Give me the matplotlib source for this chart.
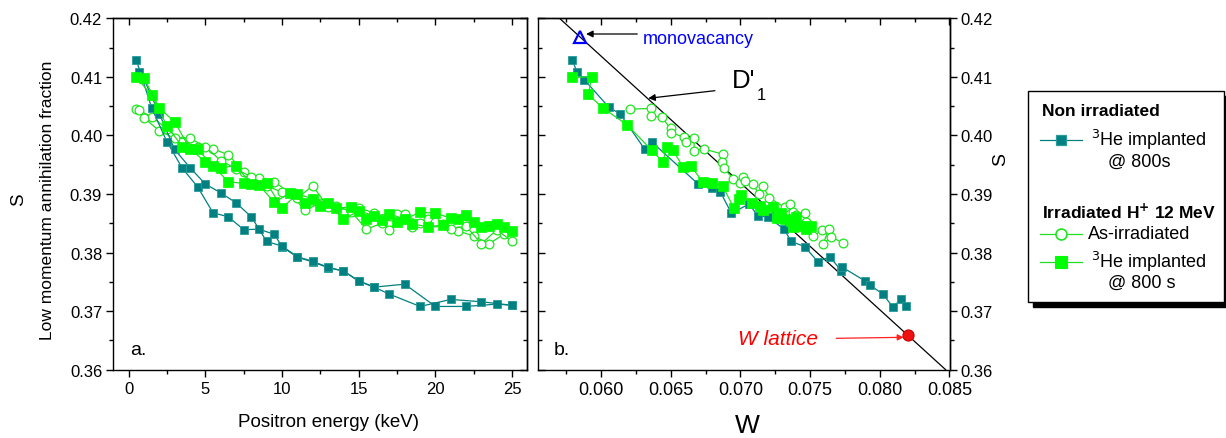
import matplotlib
matplotlib.use("Agg")
import matplotlib.pyplot as plt
import numpy as np
from matplotlib.ticker import MultipleLocator, FormatStrFormatter
from matplotlib.patches import Rectangle
from matplotlib.lines import Line2D

plt.rcParams['font.family'] = ['Liberation Sans', 'DejaVu Sans']

# ---------------- data: panel a (S vs positron energy) ----------------
teal_E1 = [0.5, 1.5, 2.5, 3.5, 4.5, 5.5, 6.5, 7.5, 8.5, 9.5, 10, 11, 12, 13, 14, 15, 16, 18, 20, 22, 24, 25]
teal_S1 = [0.4129, 0.4047, 0.3989, 0.3944, 0.3912, 0.3868, 0.3861, 0.3839, 0.3840, 0.3831, 0.3810,
           0.3792, 0.3784, 0.3774, 0.3769, 0.3751, 0.3741, 0.3746, 0.3708, 0.3708, 0.3712, 0.3710]
teal_E2 = [0.7, 1.0, 2.0, 3.0, 4.0, 5.0, 6.0, 7.0, 8.0, 9.0, 10, 11, 12, 13, 14, 15, 16, 17, 19, 21, 23, 25]
teal_S2 = [0.4108, 0.4096, 0.4037, 0.3976, 0.3945, 0.3917, 0.3902, 0.3885, 0.3861, 0.3819, 0.3811,
           0.3793, 0.3785, 0.3775, 0.3768, 0.3752, 0.3741, 0.3729, 0.3708, 0.3720, 0.3716, 0.3710]

asirr_E1 = [0.5, 1.5, 2.5, 3.5, 4.5, 5.5, 6.5, 7.5, 8.5, 9.5, 10.5, 11.5, 12.5, 13.5, 14.5, 15.5,
            16.5, 17.5, 18.5, 19.5, 20.5, 21.5, 22.5, 23.5, 24.5]
asirr_S1 = [0.4045, 0.4032, 0.4011, 0.3990, 0.3981, 0.3977, 0.3967, 0.3938, 0.3927, 0.3921, 0.3902,
            0.3872, 0.3885, 0.3880, 0.3870, 0.3840, 0.3850, 0.3866, 0.3843, 0.3858, 0.3848, 0.3837,
            0.3828, 0.3815, 0.3832]
asirr_E2 = [0.7, 1, 2, 3, 4, 5, 6, 7, 8, 9, 10, 11, 12, 13, 14, 15, 16, 17, 18, 19, 20, 21, 22, 23, 24, 25]
asirr_S2 = [0.4044, 0.4030, 0.4008, 0.3995, 0.3995, 0.3981, 0.3957, 0.3943, 0.3929, 0.3914, 0.3903,
            0.3893, 0.3914, 0.3878, 0.3868, 0.3876, 0.3868, 0.3839, 0.3866, 0.3850, 0.3853, 0.3841,
            0.3845, 0.3815, 0.3839, 0.3819]

heirr_E1 = [0.5, 1.5, 2.5, 3.5, 4.5, 5.5, 6.5, 7.5, 8.5, 9.5, 10.5, 11.5, 12.5, 13.5, 14.5, 15.5,
            16.5, 17.5, 18.5, 19.5, 20.5, 21.5, 22.5, 23.5, 24.5]
heirr_S1 = [0.4099, 0.4069, 0.4016, 0.3981, 0.3976, 0.3948, 0.3921, 0.3918, 0.3915, 0.3886, 0.3901,
            0.3884, 0.3879, 0.3876, 0.3878, 0.3857, 0.3856, 0.3853, 0.3849, 0.3844, 0.3847, 0.3857,
            0.3852, 0.3845, 0.3844]
heirr_E2 = [1, 2, 3, 4, 5, 6, 7, 8, 9, 10, 11, 12, 13, 14, 15, 16, 17, 18, 19, 20, 21, 22, 23, 24, 25]
heirr_S2 = [0.4098, 0.4047, 0.4023, 0.3977, 0.3955, 0.3945, 0.3948, 0.3917, 0.3919, 0.3876, 0.3900,
            0.3892, 0.3885, 0.3857, 0.3871, 0.3863, 0.3866, 0.3857, 0.3869, 0.3867, 0.3859, 0.3864,
            0.3844, 0.3848, 0.3836]

# ---------------- data: panel b (S vs W) ----------------
teal_W = [0.05794, 0.05826, 0.05880, 0.06057, 0.06136, 0.06315, 0.06363, 0.06697, 0.06793, 0.06857,
          0.06936, 0.07062, 0.07127, 0.07199, 0.07311, 0.07366, 0.07461, 0.07557, 0.07640, 0.07724,
          0.07731, 0.07891, 0.07927, 0.08022, 0.08094, 0.08154, 0.08190]
teal_Sb = [0.4129, 0.4109, 0.4095, 0.4048, 0.4037, 0.3976, 0.3989, 0.3917, 0.3911, 0.3903,
           0.3867, 0.3883, 0.3862, 0.3861, 0.3840, 0.3819, 0.3810, 0.3784, 0.3793, 0.3769,
           0.3775, 0.3752, 0.3745, 0.3729, 0.3707, 0.3721, 0.3709]

heirr_W = [0.05794, 0.05933, 0.05909, 0.06012, 0.06188, 0.06363, 0.06442, 0.06475, 0.06514, 0.06590,
           0.06643, 0.06733, 0.06793, 0.06872, 0.06953, 0.06991, 0.07001, 0.07080, 0.07139, 0.07163,
           0.07234, 0.07259, 0.07294, 0.07318, 0.07366, 0.07378, 0.07402, 0.07438, 0.07474, 0.07509]
heirr_Sb = [0.4099, 0.4100, 0.4070, 0.4047, 0.4018, 0.3975, 0.3955, 0.3981, 0.3975, 0.3946,
            0.3948, 0.3920, 0.3918, 0.3914, 0.3876, 0.3891, 0.3898, 0.3885, 0.3880, 0.3872,
            0.3877, 0.3859, 0.3868, 0.3857, 0.3854, 0.3843, 0.3860, 0.3846, 0.3840, 0.3846]

asirr_W = [0.06208, 0.06356, 0.06356, 0.06435, 0.06499, 0.06499, 0.06595, 0.06609, 0.06668, 0.06668,
           0.06738, 0.06872, 0.06865, 0.06881, 0.06948, 0.06996, 0.07020, 0.07032, 0.07087, 0.07134,
           0.07163, 0.07206, 0.07318, 0.07354, 0.07378, 0.07402, 0.07461, 0.07474, 0.07521, 0.07588,
           0.07635, 0.07593, 0.07652, 0.07736]
asirr_Sb = [0.4045, 0.4046, 0.4033, 0.4031, 0.4012, 0.4005, 0.3997, 0.3989, 0.3995, 0.3974,
            0.3977, 0.3968, 0.3955, 0.3944, 0.3926, 0.3919, 0.3929, 0.3923, 0.3917, 0.3900,
            0.3913, 0.3894, 0.3877, 0.3883, 0.3869, 0.3864, 0.3867, 0.3853, 0.3828, 0.3839,
            0.3840, 0.3815, 0.3827, 0.3816]

mono_W, mono_S = 0.0585, 0.4168
latt_W, latt_S = 0.0820, 0.3659

# ---------------- styles ----------------
TEAL = '#008080'
GREEN = '#00ff00'
GLINE = '#22dd22'

W_px, H_px = 1226, 439
fig = plt.figure(figsize=(W_px / 100, H_px / 100), dpi=100)

def fx(px):
    return px / W_px

def fy(py):
    return 1 - py / H_px

top, bot = 19.3, 370.7
ax_a = fig.add_axes([fx(113.3), fy(bot), fx(526.7 - 113.3), (bot - top) / H_px])
ax_b = fig.add_axes([fx(538.3), fy(bot), fx(949.5 - 538.3), (bot - top) / H_px])

teal_kw = dict(color=TEAL, lw=0.9, marker='s', ms=6, mfc=TEAL, mec='#2a9a9a', mew=0.6)
he_kw = dict(color=GLINE, lw=0.9, marker='s', ms=6.5, mfc=GREEN, mec=GREEN, mew=0.5)
circ_kw = dict(color=GLINE, lw=0.9, marker='o', ms=6.3, mfc='white', mec='#1ee61e', mew=0.9)

# panel a
ax_a.plot(asirr_E1, asirr_S1, **circ_kw, zorder=3)
ax_a.plot(asirr_E2, asirr_S2, **circ_kw, zorder=3)
ax_a.plot(teal_E1, teal_S1, **teal_kw, zorder=4)
ax_a.plot(teal_E2, teal_S2, **teal_kw, zorder=4)
ax_a.plot(heirr_E1, heirr_S1, **he_kw, zorder=5)
ax_a.plot(heirr_E2, heirr_S2, **he_kw, zorder=5)

ax_a.set_xlim(-1, 25.95)
ax_a.set_ylim(0.36, 0.42)

# panel b
ax_b.axline((mono_W, mono_S), (latt_W, latt_S), color='black', lw=0.9, zorder=2)
ax_b.plot(asirr_W, asirr_Sb, **circ_kw, zorder=3)
ax_b.plot(teal_W, teal_Sb, **teal_kw, zorder=4)
ax_b.plot(heirr_W, heirr_Sb, **he_kw, zorder=5)
ax_b.plot([mono_W], [mono_S], marker='^', ms=9, mfc='none', mec='#0000ff', mew=1.6, zorder=6)
ax_b.plot([latt_W], [latt_S], marker='o', ms=8, mfc='#ee1111', mec='#cc0000', mew=0.8, zorder=6)
ax_b.set_xlim(0.0555, 0.085)
ax_b.set_ylim(0.36, 0.42)

# ---------------- ticks ----------------
TFS = 12
for ax in (ax_a, ax_b):
    for s in ax.spines.values():
        s.set_linewidth(1.0)
    ax.yaxis.set_major_locator(MultipleLocator(0.01))
    ax.yaxis.set_minor_locator(MultipleLocator(0.005))
    ax.yaxis.set_major_formatter(FormatStrFormatter('%.2f'))

ax_a.xaxis.set_major_locator(MultipleLocator(5))
ax_a.xaxis.set_minor_locator(MultipleLocator(2.5))
ax_b.xaxis.set_major_locator(MultipleLocator(0.005))
ax_b.xaxis.set_minor_locator(MultipleLocator(0.0025))
ax_b.xaxis.set_major_formatter(FormatStrFormatter('%.3f'))

def set_ticks(ax, axis, direction, labels, side_kw):
    ax.tick_params(axis=axis, which='major', direction=direction, length=5, width=1.0,
                   labelsize=TFS, pad=3, **side_kw)
    ax.tick_params(axis=axis, which='minor', direction=direction, length=3, width=1.0, **side_kw)

# panel a: bottom out, left out; top & right in (no labels)
set_ticks(ax_a, 'x', 'out', True, dict(bottom=True, top=False))
set_ticks(ax_a, 'y', 'out', True, dict(left=True, right=False))
sec = ax_a.secondary_xaxis('top')
sec.xaxis.set_major_locator(MultipleLocator(5)); sec.xaxis.set_minor_locator(MultipleLocator(2.5))
sec.tick_params(which='major', direction='in', length=5, width=1.0, labeltop=False)
sec.tick_params(which='minor', direction='in', length=3, width=1.0)
sec.spines['top'].set_linewidth(1.0)
sec = ax_a.secondary_yaxis('right')
sec.yaxis.set_major_locator(MultipleLocator(0.01)); sec.yaxis.set_minor_locator(MultipleLocator(0.005))
sec.tick_params(which='major', direction='in', length=5, width=1.0, labelright=False)
sec.tick_params(which='minor', direction='in', length=3, width=1.0)
sec.spines['right'].set_linewidth(1.0)

# panel b: bottom out, left in (no labels), top in, right out with labels
set_ticks(ax_b, 'x', 'out', True, dict(bottom=True, top=False))
ax_b.tick_params(axis='x', labelsize=13)
ax_b.tick_params(axis='y', which='major', direction='in', length=5, width=1.0, left=True, right=False, labelleft=False)
ax_b.tick_params(axis='y', which='minor', direction='in', length=3, width=1.0, left=True, right=False)
sec = ax_b.secondary_xaxis('top')
sec.xaxis.set_major_locator(MultipleLocator(0.005)); sec.xaxis.set_minor_locator(MultipleLocator(0.0025))
sec.tick_params(which='major', direction='in', length=5, width=1.0, labeltop=False)
sec.tick_params(which='minor', direction='in', length=3, width=1.0)
sec.spines['top'].set_linewidth(1.0)
sec = ax_b.secondary_yaxis('right')
sec.yaxis.set_major_locator(MultipleLocator(0.01)); sec.yaxis.set_minor_locator(MultipleLocator(0.005))
sec.yaxis.set_major_formatter(FormatStrFormatter('%.2f'))
sec.tick_params(which='major', direction='out', length=5, width=1.0, labelsize=TFS, pad=3)
sec.tick_params(which='minor', direction='out', length=3, width=1.0)
sec.spines['right'].set_linewidth(1.0)

# ---------------- axis labels & annotations ----------------
fig.text(fx(19), fy(200), 'S', rotation=90, fontsize=13.5, ha='center', va='center')
fig.text(fx(47.5), fy(200), 'Low momentum annihilation fraction', rotation=90, fontsize=12.5,
         ha='center', va='center')
fig.text(fx(328), fy(423), 'Positron energy (keV)', fontsize=13.5, ha='center', va='center')
fig.text(fx(747), fy(426), 'W', fontsize=19, ha='center', va='center')
fig.text(fx(1001), fy(160), 'S', rotation=90, fontsize=14, ha='center', va='center')

fig.text(fx(130), fy(355), 'a.', fontsize=14, ha='left', va='baseline')
fig.text(fx(554), fy(355), 'b.', fontsize=14, ha='left', va='baseline')

ax_b.text(0.06301, 0.41573, 'monovacancy', color='#0000ff', fontsize=13, ha='left', va='baseline')
ax_b.annotate('', xy=(0.05893, 0.41732), xytext=(0.0626, 0.41732),
              arrowprops=dict(arrowstyle='-|>', color='black', lw=0.9, mutation_scale=10,
                              shrinkA=0, shrinkB=0))
ax_b.text(0.06936, 0.40822, "D'", fontsize=18.5, ha='left', va='baseline')
ax_b.text(0.07117, 0.40622, '1', fontsize=12, ha='left', va='baseline')
ax_b.annotate('', xy=(0.06339, 0.40634), xytext=(0.06817, 0.40764),
              arrowprops=dict(arrowstyle='-|>', color='black', lw=0.9, mutation_scale=10,
                              shrinkA=0, shrinkB=0))
ax_b.text(0.06984, 0.36439, 'W lattice', color='#ff0000', fontsize=15, style='italic',
          ha='left', va='baseline')
ax_b.annotate('', xy=(0.08171, 0.36553), xytext=(0.07688, 0.36536),
              arrowprops=dict(arrowstyle='-|>', color='#ff2020', lw=0.9, mutation_scale=9,
                              shrinkA=0, shrinkB=0))

# ---------------- legend box ----------------
lx0, ly0, lw_, lh_ = 1028, 92, 196, 211
shadow = Rectangle((fx(lx0 + 5), fy(ly0 + lh_ + 5)), fx(lw_), lh_ / H_px, transform=fig.transFigure,
                   facecolor='black', edgecolor='black', zorder=1)
fig.add_artist(shadow)
box = Rectangle((fx(lx0), fy(ly0 + lh_)), fx(lw_), lh_ / H_px, transform=fig.transFigure,
                facecolor='white', edgecolor='black', lw=1.0, zorder=2)
fig.add_artist(box)

def lt(x, y, s, **kw):
    fig.text(fx(lx0 + x), fy(ly0 + y), s, ha='left', va='center', zorder=3, **kw)

def lsample(y, kw):
    ln = Line2D([fx(lx0 + 12), fx(lx0 + 54)], [fy(ly0 + y)] * 2, transform=fig.transFigure,
                color=kw['color'], lw=kw['lw'], zorder=3)
    fig.add_artist(ln)
    mk = Line2D([fx(lx0 + 33)], [fy(ly0 + y)], transform=fig.transFigure, linestyle='none',
                marker=kw['marker'], ms=kw['ms'] * 1.25, mfc=kw['mfc'], mec=kw['mec'],
                mew=kw['mew'] + 0.3, zorder=4)
    fig.add_artist(mk)

lt(14, 20, 'Non irradiated', fontsize=12.5, fontweight='bold')
lsample(49, teal_kw)
lt(63, 48, r'$^{3}$He implanted', fontsize=13)
lt(80, 70, '@ 800s', fontsize=13)
lt(14, 120, r'Irradiated H$^{\mathbf{+}}$ 12 MeV', fontsize=12.5, fontweight='bold')
lsample(143, circ_kw)
lt(60, 143, 'As-irradiated', fontsize=13)
lsample(171, he_kw)
lt(63, 170, r'$^{3}$He implanted', fontsize=13)
lt(80, 191, '@ 800 s', fontsize=13)

fig.savefig('out.png', dpi=100)
